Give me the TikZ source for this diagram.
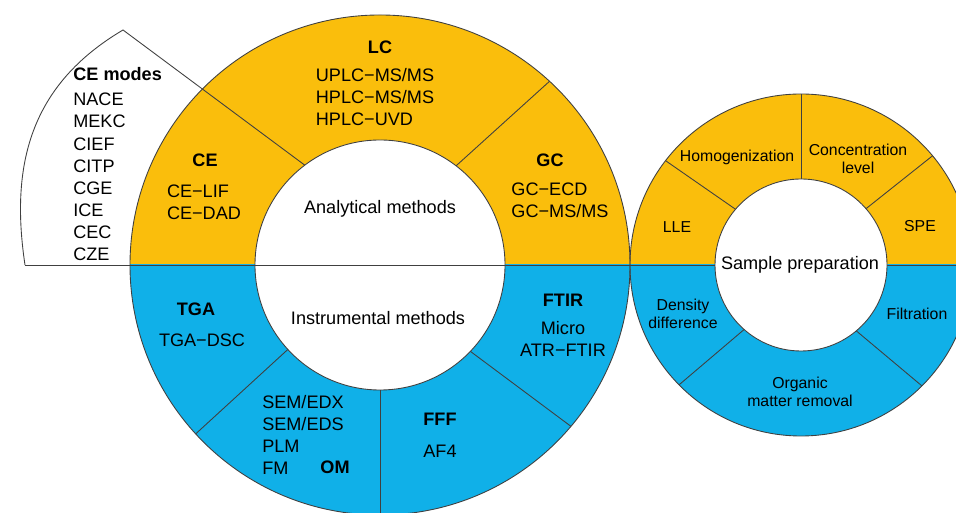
\documentclass[tikz,border=0pt]{standalone}
\usepackage{fontspec}
\setmainfont{Liberation Sans}
\usetikzlibrary{calc}
\definecolor{ringyellow}{RGB}{250,190,12}
\definecolor{ringblue}{RGB}{16,176,232}
\def\px{0.02cm}

\begin{document}
\begin{tikzpicture}[x=\px, y=\px,
    txt/.style={font=\fontsize{10.3}{12.6}\selectfont, inner sep=0pt, align=left},
    head/.style={txt, font=\fontsize{10.3}{12.6}\selectfont\bfseries},
    small/.style={font=\fontsize{9}{10.4}\selectfont, inner sep=0pt, align=center},
    rim/.style={draw=black!75, line width=0.5pt}]
  \clip (0,0) rectangle (956,513);
  \coordinate (big) at (380,248);
  \coordinate (prep) at (801,248);
  \coordinate (peak) at (123,483);

  \begin{scope}
    \clip (0,248) rectangle (956,513);
    \fill[ringyellow] (big) circle (250);
    \fill[ringyellow] (prep) circle (171);
  \end{scope}
  \begin{scope}
    \clip (0,0) rectangle (956,248);
    \fill[ringblue] (big) circle (250);
    \fill[ringblue] (prep) circle (171);
  \end{scope}
  \draw[rim] (big) circle (250);
  \draw[rim] (prep) circle (171);
  \filldraw[fill=white, rim] (big) circle (125);

  \draw[rim] (25,248) .. controls (10,348) and (30,428) .. (peak) -- ($(big)+(127:125)$);
  \draw[rim] ($(big)+(52.5:125)$) -- ($(big)+(47.3:250)$);
  \draw[rim] ($(big)+(222.5:125)$) -- ($(big)+(222.5:250)$);
  \draw[rim] ($(big)+(270:125)$) -- ($(big)+(270:250)$);
  \draw[rim] ($(big)+(316.3:125)$) -- ($(big)+(319.8:250)$);
  \draw[rim] (25,248) -- (956,248);

  \draw[rim] ($(prep)+(139.6:86)$) -- ($(prep)+(142.4:171)$);
  \draw[rim] ($(prep)+(90:86)$) -- ($(prep)+(90:171)$);
  \draw[rim] ($(prep)+(40.9:86)$) -- ($(prep)+(39.7:171)$);
  \draw[rim] ($(prep)+(228.6:86)$) -- ($(prep)+(224.5:171)$);
  \draw[rim] ($(prep)+(310:86)$) -- ($(prep)+(315:171)$);
  \filldraw[fill=white, rim] (prep) circle (86);

  \node[txt, anchor=west] (cemodes) at (73,349) {\textbf{CE modes}\\[2pt]NACE\\MEKC\\CIEF\\CITP\\CGE\\ICE\\CEC\\CZE};

  \node[head] (ce) at (205,353) {CE};
  \node[txt] (celist) at (204,311) {CE−LIF\\CE−DAD};
  \node[head] (lc) at (380,466) {LC};
  \node[txt] (lclist) at (375,416) {UPLC−MS/MS\\HPLC−MS/MS\\HPLC−UVD};
  \node[head] (gc) at (550,353) {GC};
  \node[txt] (gclist) at (560,313) {GC−ECD\\GC−MS/MS};
  \node[txt] (analytical) at (380,304) {Analytical methods};

  \node[txt] (instrumental) at (378,195) {Instrumental methods};
  \node[head] (tga) at (196,204) {TGA};
  \node[txt] (tgalist) at (202,173) {TGA−DSC};
  \node[head] (ftir) at (563,213) {FTIR};
  \node[txt, align=center] (ftirlist) at (563,174) {Micro\\ATR−FTIR};
  \node[txt] (omlist) at (303,78) {SEM/EDX\\SEM/EDS\\PLM\\FM};
  \node[head] (om) at (335,46) {OM};
  \node[head] (fff) at (440,94) {FFF};
  \node[txt] (ffflist) at (440,62) {AF4};

  \node[txt] (sample) at (800,248) {Sample preparation};
  \node[small] (homog) at (737,356) {Homogenization};
  \node[small] (conc) at (858,354) {Concentration\\level};
  \node[small] (lle) at (677,286) {LLE};
  \node[small] (spe) at (920,287) {SPE};
  \node[small] (density) at (683,199) {Density\\difference};
  \node[small] (filtration) at (917,199) {Filtration};
  \node[small] (organic) at (800,121) {Organic\\matter removal};
\end{tikzpicture}
\end{document}
